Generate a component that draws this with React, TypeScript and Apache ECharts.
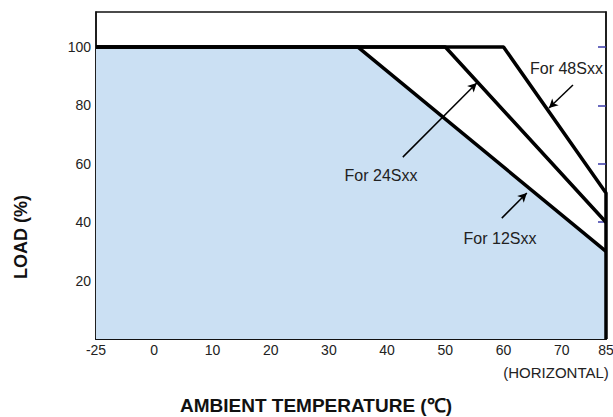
import React, { useEffect, useRef } from "react";
import * as echarts from "echarts";

// ---- data (temperatures in °C, load in %) ----
const tempTicks = [-25, 0, 10, 20, 30, 40, 50, 60, 70, 85];
const loadTicks = [20, 40, 60, 80, 100];
const series12 = [[-25, 100], [35, 100], [85, 30]];
const series24 = [[-25, 100], [50, 100], [85, 40]];
const series48 = [[-25, 100], [60, 100], [85, 50], [85, 0]];
// annotation arrows: [fromTemp, fromLoad, toTemp, toLoad]
const arrow12 = [59.7, 41.4, 64.0, 50.0];
const arrow24 = [42.7, 62.3, 55.4, 87.7];
const arrow48 = [73.8, 87.0, 67.8, 79.1];

// The printed axis squeezes -25..0 into one 10° division and 70..85 into ~7.6 units.
const toAxis = (t: number) => (t <= 0 ? t * 0.4 : t <= 70 ? t : 70 + (t - 70) * (7.6 / 15));
const fromAxis = (v: number) => (v <= 0 ? v / 0.4 : v <= 70 ? v : 70 + (v - 70) * (15 / 7.6));
const mapPts = (pts: number[][]) => pts.map(([t, l]) => [toAxis(t), l]);

const FONT = "Liberation Sans, Arial, sans-serif";
const TICK_COLOR = "#3a3aa8";

function arrowLine(a: number[]) {
  return [
    { coord: [toAxis(a[0]), a[1]], symbol: "none" },
    { coord: [toAxis(a[2]), a[3]], symbol: "arrow", symbolSize: [7, 9] },
  ];
}

export default function App() {
  const ref = useRef<HTMLDivElement>(null);
  useEffect(() => {
    if (!ref.current) return;
    const chart = echarts.init(ref.current, null, { renderer: "svg" });
    const lineStyle = { color: "#000", width: 3.5 };
    chart.setOption({
      animation: false,
      backgroundColor: "#fff",
      grid: {
        left: 96,
        right: 7,
        top: 12,
        bottom: 78,
        containLabel: false,
        outerBoundsMode: "none",
        show: true,
        borderColor: "#111",
        borderWidth: 1.5,
        backgroundColor: "transparent",
      },
      xAxis: [
        {
          type: "value",
          min: toAxis(-25),
          max: toAxis(85),
          splitLine: { show: false },
          axisLine: { show: true, onZero: false, lineStyle: { color: "#111", width: 2 } },
          axisTick: {
            show: true,
            inside: true,
            length: 8,
            lineStyle: { color: TICK_COLOR, width: 1.5 },
            customValues: tempTicks.slice(1, -1).map(toAxis),
          },
          axisLabel: {
            margin: 4,
            fontFamily: FONT,
            fontSize: 14,
            color: "#222",
            customValues: tempTicks.map(toAxis),
            formatter: (v: number) => String(Math.round(fromAxis(v))),
          },
        },
      ],
      yAxis: [
        {
          type: "value",
          min: 0,
          max: 112,
          position: "left",
          splitLine: { show: false },
          axisLine: { show: true, onZero: false, lineStyle: { color: "#111", width: 1.5 } },
          axisTick: {
            show: true,
            inside: true,
            length: 9,
            lineStyle: { color: TICK_COLOR, width: 1.5 },
            customValues: loadTicks,
          },
          axisLabel: {
            margin: 5,
            fontFamily: FONT,
            fontSize: 14,
            color: "#222",
            customValues: loadTicks,
          },
        },
        {
          type: "value",
          min: 0,
          max: 112,
          position: "right",
          splitLine: { show: false },
          axisLine: { show: true, onZero: false, lineStyle: { color: "#111", width: 1.5 } },
          axisTick: {
            show: true,
            inside: true,
            length: 8,
            lineStyle: { color: TICK_COLOR, width: 1.5 },
            customValues: loadTicks,
          },
          axisLabel: { show: false },
        },
      ],
      series: [
        {
          name: "For 12Sxx",
          type: "line",
          data: mapPts(series12),
          symbol: "none",
          clip: false,
          lineStyle,
          areaStyle: { color: "#cbe0f3", opacity: 1 },
          markLine: {
            silent: true,
            label: { show: false },
            lineStyle: { color: "#000", width: 1.5, type: "solid" },
            data: [arrowLine(arrow12), arrowLine(arrow24), arrowLine(arrow48)],
          },
          z: 2,
        },
        {
          name: "For 24Sxx",
          type: "line",
          data: mapPts(series24),
          symbol: "none",
          clip: false,
          lineStyle,
          z: 3,
        },
        {
          name: "For 48Sxx",
          type: "line",
          data: mapPts(series48),
          symbol: "none",
          clip: false,
          lineStyle,
          z: 3,
        },
      ],
      graphic: [
        {
          type: "text",
          z: 20,
          x: 381,
          y: 175,
          style: { text: "For 24Sxx", font: `16px ${FONT}`, fill: "#222", align: "center", verticalAlign: "middle" },
        },
        {
          type: "text",
          z: 20,
          x: 500,
          y: 238,
          style: { text: "For 12Sxx", font: `16px ${FONT}`, fill: "#222", align: "center", verticalAlign: "middle" },
        },
        {
          type: "text",
          z: 20,
          x: 530,
          y: 68,
          style: { text: "For 48Sxx", font: `16px ${FONT}`, fill: "#222", align: "left", verticalAlign: "middle" },
        },
        {
          type: "text",
          z: 20,
          x: 556,
          y: 372,
          style: { text: "(HORIZONTAL)", font: `15px ${FONT}`, fill: "#222", align: "center", verticalAlign: "middle" },
        },
        {
          type: "text",
          z: 20,
          x: 316,
          y: 405,
          style: {
            text: "AMBIENT TEMPERATURE (℃)",
            font: `bold 19px ${FONT}`,
            fill: "#111",
            align: "center",
            verticalAlign: "middle",
          },
        },
        {
          type: "text",
          z: 20,
          x: 21,
          y: 237,
          rotation: Math.PI / 2,
          style: { text: "LOAD (%)", font: `bold 18px ${FONT}`, fill: "#111", align: "center", verticalAlign: "middle" },
        },
      ],
    });
    return () => chart.dispose();
  }, []);
  return <div ref={ref} style={{ position: "absolute", left: 0, top: 0, width: 613, height: 417 }} />;
}
